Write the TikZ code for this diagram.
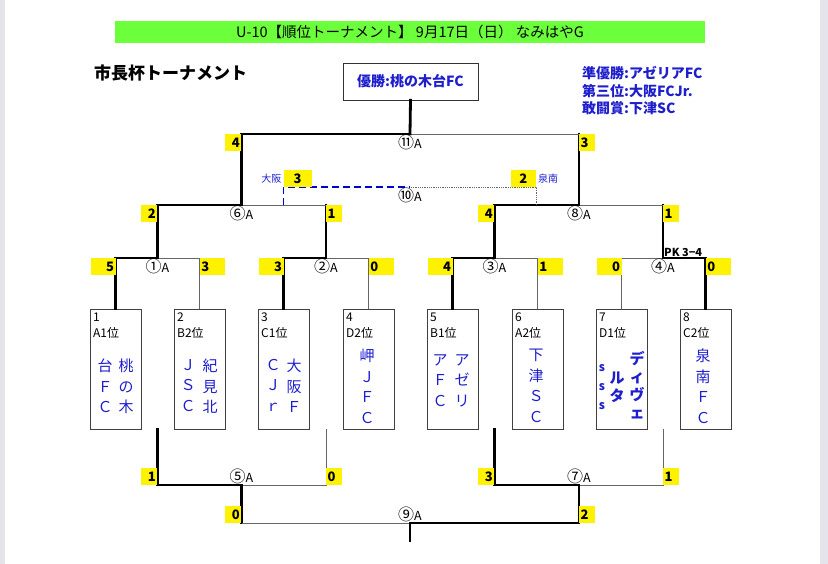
\documentclass[tikz,border=0pt]{standalone}
\usepackage{fontspec}
\setmainfont{Noto Sans CJK JP}
\definecolor{hdrgreen}{RGB}{108,255,60}
\definecolor{teamblue}{RGB}{30,30,205}
\definecolor{pagegray}{RGB}{228,228,234}
\newcommand{\gamenum}[1]{{\fontsize{16}{13}\selectfont #1}}

\begin{document}
\begin{tikzpicture}[x=1pt,y=-1pt,
teambox/.style={draw=black!75, thin, minimum width=51pt, minimum height=120pt, anchor=north west, inner sep=0pt},
seed/.style={anchor=north west, align=left, font=\fontsize{12}{16}\selectfont, inner sep=0pt},
teamcol/.style={anchor=north, align=center, text=teamblue, font=\fontsize{15}{20.5}\selectfont, inner sep=0pt},
win/.style={line width=2.8pt, line cap=rect},
lose/.style={line width=0.8pt, draw=black!60},
matchlbl/.style={font=\fontsize{12.5}{13}\selectfont, inner sep=0.5pt},
score/.style={fill=yellow, font=\bfseries\fontsize{13}{13}\selectfont, inner xsep=1.5pt, inner ysep=0pt, minimum height=17pt},
scoreL/.style={score, anchor=north east, text width=13pt, align=right},
scoreR/.style={score, anchor=north west, text width=13pt, align=left},
podium/.style={anchor=west, text=teamblue, font=\bfseries\fontsize{14}{14}\selectfont, inner sep=0pt}
]
    \useasboundingbox (0,0) rectangle (828,564);
    \fill[pagegray] (0,0) rectangle (5,564);
    \fill[pagegray] (820,0) rectangle (828,564);

    \node[fill=hdrgreen, minimum width=590pt, minimum height=22pt, inner sep=0pt, font=\fontsize{14.5}{14.5}\selectfont] (title) at (410,32) {U-10【順位トーナメント】 9月17日（日） なみはやG};
    \node[anchor=west, inner sep=0pt, font=\bfseries\fontsize{17}{17}\selectfont] (cup) at (94,73) {市長杯トーナメント};
    \node[draw=black!80, fill=white, minimum width=135pt, minimum height=37pt, inner sep=0pt, text=teamblue, font=\bfseries\fontsize{14}{14}\selectfont] (champ) at (410.5,81.5) {優勝:桃の木台FC};
    \node[podium] (p2) at (582,73) {準優勝:アゼリアFC};
    \node[podium] (p3) at (582,91) {第三位:大阪FCJr.};
    \node[podium] (p4) at (582,108) {敢闘賞:下津SC};

    \node[teambox] (t1) at (90,309) {};
    \node[teambox] (t2) at (174,309) {};
    \node[teambox] (t3) at (258,309) {};
    \node[teambox] (t4) at (343,309) {};
    \node[teambox] (t5) at (427,309) {};
    \node[teambox] (t6) at (512,309) {};
    \node[teambox] (t7) at (596,309) {};
    \node[teambox] (t8) at (680,309) {};

    \node[seed] (s1) at (93,313) {1\\A1位};
    \node[seed] (s2) at (177,313) {2\\B2位};
    \node[seed] (s3) at (261,313) {3\\C1位};
    \node[seed] (s4) at (346,313) {4\\D2位};
    \node[seed] (s5) at (430,313) {5\\B1位};
    \node[seed] (s6) at (515,313) {6\\A2位};
    \node[seed] (s7) at (599,313) {7\\D1位};
    \node[seed] (s8) at (683,313) {8\\C2位};

    \node[teamcol] (n1a) at (126,359) {桃\\の\\木};
    \node[teamcol] (n1b) at (105,359) {台\\Ｆ\\Ｃ};
    \node[teamcol] (n2a) at (210,359) {紀\\見\\北};
    \node[teamcol] (n2b) at (188,359) {Ｊ\\Ｓ\\Ｃ};
    \node[teamcol] (n3a) at (294,359) {大\\阪\\Ｆ};
    \node[teamcol] (n3b) at (273,359) {Ｃ\\Ｊ\\ｒ};
    \node[teamcol] (n4) at (367,349) {岬\\Ｊ\\Ｆ\\Ｃ};
    \node[teamcol] (n5a) at (462,354) {ア\\ゼ\\リ};
    \node[teamcol] (n5b) at (440,354) {ア\\Ｆ\\Ｃ};
    \node[teamcol] (n6) at (536,349) {下\\津\\Ｓ\\Ｃ};
    \node[teamcol, font=\bfseries\fontsize{15}{18}\selectfont] (n7a) at (637,351) {デ\\ィ\\ヴ\\ェ};
    \node[teamcol, font=\bfseries\fontsize{15}{18}\selectfont] (n7b) at (617,372) {ル\\タ};
    \node[teamcol, font=\bfseries\fontsize{12}{19}\selectfont] (n7c) at (602,364) {s\\s\\s};
    \node[teamcol] (n8) at (703,349) {泉\\南\\Ｆ\\Ｃ};

    \coordinate (m1) at (157.5,258);
    \coordinate (m2) at (326,258);
    \coordinate (m3) at (494.5,258);
    \coordinate (m4) at (663,258);
    \coordinate (m6) at (241.5,205);
    \coordinate (m8) at (579,205);
    \coordinate (m11) at (410,134);
    \coordinate (m10) at (410,187);
    \coordinate (osaka) at (283.5,205);
    \coordinate (sennan) at (536,205);

    \draw[win] (t1.north) |- (m1);
    \draw[lose] (t2.north) |- (m1);
    \draw[win] (t3.north) |- (m2);
    \draw[lose] (t4.north) |- (m2);
    \draw[win] (t5.north) |- (m3);
    \draw[lose] (t6.north) |- (m3);
    \draw[lose] (t7.north) |- (m4);
    \draw[win] (t8.north) |- (m4);

    \draw[win] (m1) |- (m6);
    \draw[win] (m2) -- (m2 |- m6);
    \draw[lose] (m2 |- m6) -- (m6);
    \draw[win] (m3) |- (m8);
    \draw[win] (m4) -- (m4 |- m8);
    \draw[lose] (m4 |- m8) -- (m8);
    \draw[win] (m6) |- (m11);
    \draw[win] (m8) -- (m8 |- m11);
    \draw[lose] (m8 |- m11) -- (m11);
    \draw[win] (m11) -- (champ.south);

    \draw[lose, densely dotted] (sennan) |- (m10);
    \draw[line width=1.6pt, draw=blue!80!black, dash pattern=on 7pt off 4pt] (osaka) |- (m10);

    \coordinate (l1) at (157.5,429);
    \coordinate (l2) at (326,429);
    \coordinate (l3) at (494.5,429);
    \coordinate (l4) at (663,429);
    \coordinate (m5) at (241.5,485);
    \coordinate (m7) at (579,485);
    \coordinate (m9) at (410,523);
    \coordinate (e9) at (410,541);

    \draw[win] (l1) |- (m5);
    \draw[lose] (l2) |- (m5);
    \draw[win] (l3) |- (m7);
    \draw[lose] (l4) |- (m7);
    \draw[win] (m5) -- (m5 |- m9);
    \draw[lose] (m5 |- m9) -- (m9);
    \draw[win] (m7) |- (m9);
    \draw[win] (m9) -- (e9);

    \node[matchlbl, anchor=north] (k1) at (m1) {\gamenum{①}A};
    \node[matchlbl, anchor=north] (k2) at (m2) {\gamenum{②}A};
    \node[matchlbl, anchor=north] (k3) at (m3) {\gamenum{③}A};
    \node[matchlbl, anchor=north] (k4) at (m4) {\gamenum{④}A};
    \node[matchlbl, anchor=north] (k6) at (m6) {\gamenum{⑥}A};
    \node[matchlbl, anchor=north] (k8) at (m8) {\gamenum{⑧}A};
    \node[matchlbl, anchor=north] (k10) at (m10) {\gamenum{⑩}A};
    \node[matchlbl, anchor=north] (k11) at (m11) {\gamenum{⑪}A};
    \node[matchlbl, anchor=south] (k5) at (m5) {\gamenum{⑤}A};
    \node[matchlbl, anchor=south] (k7) at (m7) {\gamenum{⑦}A};
    \node[matchlbl, anchor=south] (k9) at (m9) {\gamenum{⑨}A};

    \node[scoreL, text width=22pt] (r1a) at (t1.north |- m1) {5};
    \node[scoreR, text width=22pt] (r1b) at (t2.north |- m1) {3};
    \node[scoreL, text width=22pt] (r2a) at (t3.north |- m2) {3};
    \node[scoreR, text width=22pt] (r2b) at (t4.north |- m2) {0};
    \node[scoreL, text width=22pt] (r3a) at (t5.north |- m3) {4};
    \node[scoreR, text width=22pt] (r3b) at (t6.north |- m3) {1};
    \node[scoreL, text width=22pt] (r4a) at (t7.north |- m4) {0};
    \node[scoreR, text width=22pt] (r4b) at (t8.north |- m4) {0};
    \node[anchor=south west, inner sep=1pt, font=\bfseries\fontsize{11}{11}\selectfont] (pk) at (m4) {PK 3−4};

    \node[scoreL] (r6a) at (m1 |- m6) {2};
    \node[scoreR] (r6b) at (m2 |- m6) {1};
    \node[scoreL] (r8a) at (m3 |- m8) {4};
    \node[scoreR] (r8b) at (m4 |- m8) {1};
    \node[scoreL] (r11a) at (m6 |- m11) {4};
    \node[scoreR] (r11b) at (m8 |- m11) {3};

    \node[score, anchor=south west, text width=25pt, align=center] (r10a) at (osaka |- m10) {3};
    \node[score, anchor=south east, text width=22pt, align=center] (r10b) at (sennan |- m10) {2};
    \node[anchor=east, inner sep=2pt, text=teamblue, font=\fontsize{10}{10}\selectfont] (osk) at (osaka |- 0,179) {大阪};
    \node[anchor=west, inner sep=2pt, text=teamblue, font=\fontsize{10}{10}\selectfont] (snn) at (sennan |- 0,179) {泉南};

    \node[scoreL, anchor=south east] (r5a) at (l1 |- m5) {1};
    \node[scoreR, anchor=south west] (r5b) at (l2 |- m5) {0};
    \node[scoreL, anchor=south east] (r7a) at (l3 |- m7) {3};
    \node[scoreR, anchor=south west] (r7b) at (l4 |- m7) {1};
    \node[scoreL, anchor=south east] (r9a) at (m5 |- m9) {0};
    \node[scoreR, anchor=south west] (r9b) at (m7 |- m9) {2};
\end{tikzpicture}
\end{document}
